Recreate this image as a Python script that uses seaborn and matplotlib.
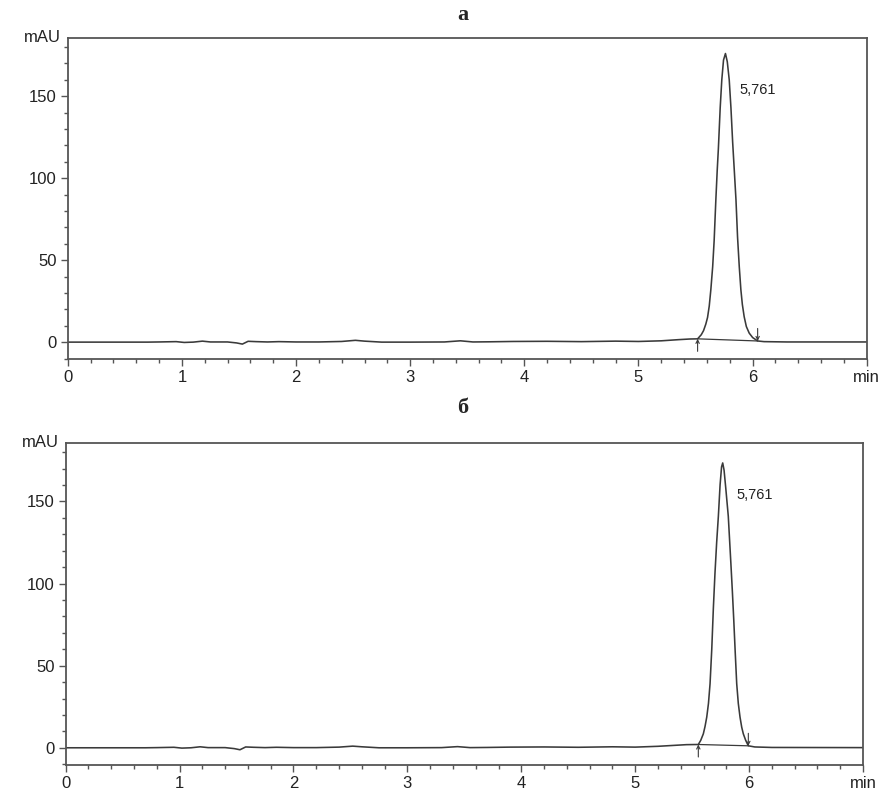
import pandas as pd
import seaborn as sns
import matplotlib.pyplot as plt
from matplotlib.ticker import MultipleLocator

# --- chromatogram a (time in min, signal in mAU) ---
time_a = [0.0, 0.7, 0.8, 0.95, 1.02, 1.1, 1.18, 1.25, 1.4, 1.48, 1.53, 1.58, 1.65, 1.75, 1.85,
          2.0, 2.2, 2.4, 2.52, 2.6, 2.75, 3.0, 3.3, 3.44, 3.55, 3.7, 3.9, 4.2, 4.5, 4.8, 5.0,
          5.2, 5.35, 5.45, 5.518, 5.55, 5.57, 5.59, 5.605, 5.62, 5.634, 5.65, 5.663, 5.678,
          5.69, 5.70, 5.716, 5.73, 5.745, 5.762, 5.778, 5.795, 5.81, 5.825, 5.84, 5.854,
          5.868, 5.883, 5.897, 5.91, 5.926, 5.945, 5.97, 6.0, 6.044, 6.1, 6.3, 7.0]
signal_a = [0.0, 0.0, 0.1, 0.3, -0.2, 0.0, 0.6, 0.1, 0.1, -0.5, -1.2, 0.5, 0.3, 0.1, 0.3,
            0.1, 0.1, 0.4, 1.1, 0.6, 0.0, 0.0, 0.1, 0.8, 0.1, 0.2, 0.4, 0.5, 0.3, 0.6, 0.4,
            0.8, 1.5, 1.9, 2.0, 4.5, 7.0, 11.0, 15.0, 22.0, 32.0, 46.0, 62.0, 87.0,
            105.0, 118.0, 143.0, 160.0, 172.0, 176.0, 171.0, 160.0, 143.0, 122.0, 104.0, 87.0,
            64.0, 46.0, 32.0, 23.0, 15.5, 9.5, 5.5, 2.8, 0.7, 0.3, 0.1, 0.1]

# --- chromatogram b ---
time_b = [0.0, 0.7, 0.8, 0.95, 1.02, 1.1, 1.18, 1.25, 1.4, 1.48, 1.53, 1.58, 1.65, 1.75, 1.85,
          2.0, 2.2, 2.4, 2.52, 2.6, 2.75, 3.0, 3.3, 3.44, 3.55, 3.7, 3.9, 4.2, 4.5, 4.8, 5.0,
          5.2, 5.35, 5.45, 5.554, 5.575, 5.598, 5.613, 5.628, 5.643, 5.657, 5.672, 5.686,
          5.70, 5.715, 5.73, 5.745, 5.758, 5.768, 5.78, 5.795, 5.817, 5.84, 5.853, 5.865,
          5.878, 5.891, 5.905, 5.92, 5.935, 5.949, 5.97, 5.993, 6.05, 6.2, 7.0]
signal_b = [0.0, 0.0, 0.1, 0.3, -0.2, 0.0, 0.6, 0.1, 0.1, -0.5, -1.2, 0.5, 0.3, 0.1, 0.3,
            0.1, 0.1, 0.4, 1.0, 0.6, 0.0, 0.0, 0.1, 0.7, 0.1, 0.2, 0.4, 0.5, 0.3, 0.6, 0.4,
            0.9, 1.5, 1.9, 2.0, 4.5, 8.5, 13.0, 18.7, 27.0, 39.0, 60.0, 85.0,
            106.0, 125.0, 141.0, 160.0, 171.0, 173.4, 169.0, 158.0, 141.0, 112.0, 95.0, 78.0,
            58.0, 39.0, 27.0, 18.7, 12.5, 8.5, 4.5, 1.2, 0.5, 0.2, 0.1]

# integration marks (start, end) and retention time label
marks_a = [(5.518, 2.0), (6.044, 0.7)]
marks_b = [(5.554, 2.0), (5.993, 1.2)]
peak_label = "5,761"
panel_titles = ["а", "б"]
x_labels = ["0", "1", "2", "3", "4", "5", "6", "min"]

sns.set_theme(style="ticks")
plt.rcParams['font.family'] = ['Liberation Sans', 'DejaVu Sans']

fig = plt.figure(figsize=(8.9, 7.95), dpi=100)
ax_a = fig.add_axes([0.0761, 0.548, 0.8978, 0.4047])
ax_b = fig.add_axes([0.0738, 0.0377, 0.8959, 0.4054])

line_col = '#3a3a3a'
spine_col = '#555555'

for ax, t, s, marks, title_y, title in [(ax_a, time_a, signal_a, marks_a, 0.981, panel_titles[0]),
                                         (ax_b, time_b, signal_b, marks_b, 0.487, panel_titles[1])]:
    df = pd.DataFrame({'t': t, 'mAU': s})
    sns.lineplot(x='t', y='mAU', data=df, ax=ax, color=line_col, lw=1.15,
                 estimator=None, sort=False)
    # integration baseline
    ax.plot([marks[0][0], marks[1][0]], [marks[0][1], marks[1][1]], color=line_col, lw=0.9)
    ax.annotate('', xy=marks[0], xytext=(0, -9), textcoords='offset points',
                arrowprops=dict(arrowstyle='->', color=line_col, lw=0.8, shrinkA=0, shrinkB=0,
                                mutation_scale=6))
    ax.annotate('', xy=marks[1], xytext=(0, 9), textcoords='offset points',
                arrowprops=dict(arrowstyle='->', color=line_col, lw=0.8, shrinkA=0, shrinkB=0,
                                mutation_scale=6))
    ax.text(5.885, 154, peak_label, fontsize=10.5, color='#222222', va='center', ha='left')

    ax.set_xlim(0, 7)
    ax.set_ylim(-10.5, 185.7)
    ax.set_xticks(range(8))
    ax.set_xticklabels(x_labels)
    ax.set_yticks([0, 50, 100, 150])
    ax.xaxis.set_minor_locator(MultipleLocator(0.2))
    ax.yaxis.set_minor_locator(MultipleLocator(10))
    ax.tick_params(which='major', length=5, width=1, color=spine_col, labelsize=12,
                   labelcolor='#222222', pad=3)
    ax.tick_params(which='minor', length=3, width=1, color=spine_col)
    for sp in ax.spines.values():
        sp.set_visible(True)
        sp.set_color(spine_col)
        sp.set_linewidth(1.3)
    ax.set_xlabel('')
    ax.set_ylabel('')
    ax.text(-0.008, 1.0, 'mAU', transform=ax.transAxes, ha='right', va='center',
            fontsize=12, color='#222222')
    fig.text(0.52, title_y, title, ha='center', va='center', fontsize=16,
             fontweight='bold', family=['Liberation Serif', 'DejaVu Serif'])

fig.savefig('out.png', dpi=100)
